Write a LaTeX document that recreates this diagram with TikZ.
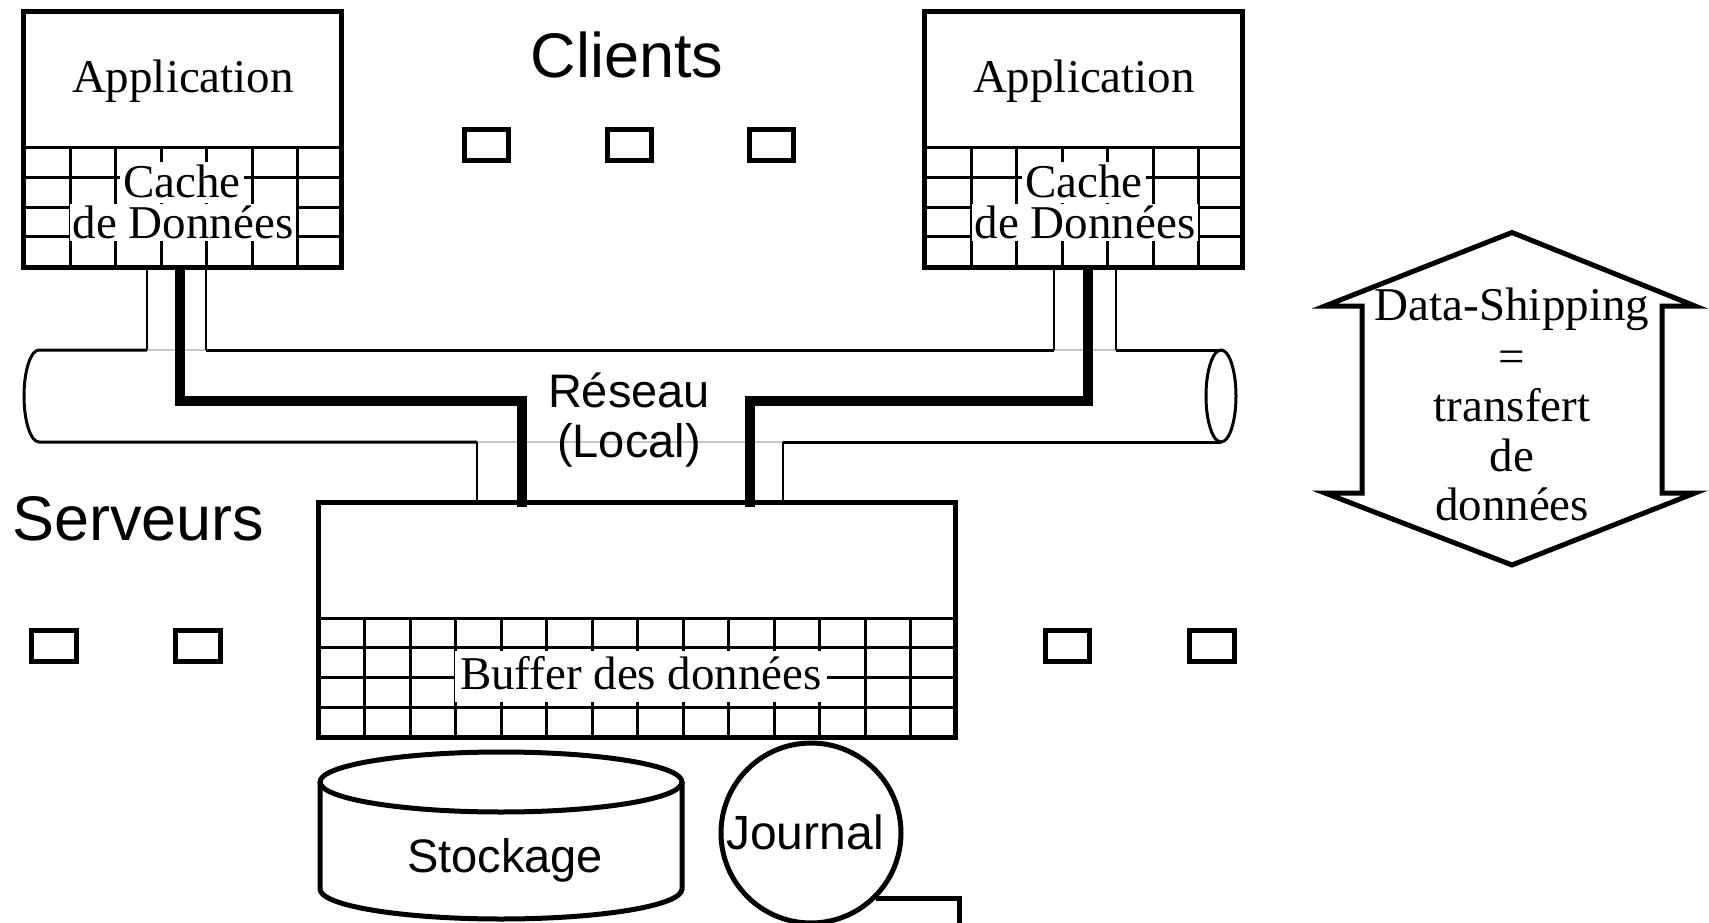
\documentclass[tikz,border=0pt]{standalone}
\usepackage{fontspec}
\setmainfont{Liberation Serif}
\newfontfamily\helv{Liberation Sans}
\begin{document}
\begin{tikzpicture}[x=1pt,y=-1pt,
  frame/.style={draw, line width=5pt, inner sep=0pt, outer sep=0pt},
  gridline/.style={line width=3pt},
  thinlink/.style={line width=2.5pt},
  datapath/.style={line width=10pt, line join=miter},
  tube/.style={line width=3pt},
  gap/.style={line width=1.5pt, black!22},
  heavy/.style={line width=5pt, line join=miter},
  mini/.style={draw, line width=5pt, minimum width=44.5pt, minimum height=31pt, inner sep=0pt},
  serif/.style={font=\fontsize{47}{50}\selectfont, inner sep=0pt},
  cachetop/.style={serif, fill=white, inner xsep=3pt, inner ysep=0pt, text height=35pt, text depth=5.5pt},
  cachebot/.style={serif, fill=white, inner xsep=3pt, inner ysep=0pt, text height=34.5pt, text depth=3pt},
  bigsans/.style={font=\helv\fontsize{63}{70}\selectfont, inner sep=0pt},
  midsans/.style={font=\helv\fontsize{47}{50}\selectfont, inner sep=0pt},
]
\useasboundingbox (0,0) rectangle (1709,923);

% ---- client cache grids ----
\foreach \ox in {23,924} {
  \foreach \k in {1,...,6}
    \draw[gridline] ({\ox+2+\k*45.43},148) -- ({\ox+2+\k*45.43},267);
  \foreach \j in {0,1,2,3}
    \draw[gridline] (\ox,{148+\j*29.5}) -- ({\ox+318},{148+\j*29.5});
}

% ---- client boxes ----
\node[frame, minimum width=318pt, minimum height=255pt] (cl) at (182,139.5) {};
\node[frame, minimum width=318pt, minimum height=255pt] (cr) at (1083,139.5) {};
\node[serif, anchor=base] (appl) at (183,93) {Application};
\node[serif, anchor=base] (appr) at (1084,93) {Application};
\node[cachebot, anchor=base] (donl) at (183,238) {de Données};
\node[cachetop, anchor=base] (cachel) at (182,197) {Cache};
\node[cachebot, anchor=base] (donr) at (1085,238) {de Données};
\node[cachetop, anchor=base] (cacher) at (1084,197) {Cache};

% ---- server buffer grid and box ----
\foreach \k in {1,...,13}
  \draw[gridline] ({319+\k*45.5},618) -- ({319+\k*45.5},737);
\foreach \j in {0,1,2,3}
  \draw[gridline] (318,{618+\j*29.75}) -- (955,{618+\j*29.75});
\node[frame, minimum width=637pt, minimum height=235pt] (srv) at (636.5,619.5) {};
\node[serif, fill=white, inner xsep=5pt, inner ysep=2pt, text height=36pt, text depth=11pt, anchor=base]
  (buf) at (641,689) {Buffer des données};

% ---- titles ----
\node[bigsans, anchor=base] (clients) at (627,78) {Clients};
\node[bigsans, anchor=base west] (serveurs) at (12,540) {Serveurs};

% ---- further machines ----
\node[mini] (m1) at (486.5,145.5) {};
\node[mini] (m2) at (629.5,145.5) {};
\node[mini] (m3) at (771.5,145.5) {};
\node[mini] (m4) at (54,645.5) {};
\node[mini] (m5) at (198,645.5) {};
\node[mini] (m6) at (1067.5,645.5) {};
\node[mini] (m7) at (1212,645.5) {};

% ---- local network tube ----
\coordinate (ta) at (147,350);
\coordinate (tb) at (206,350);
\coordinate (tc) at (1054,350);
\coordinate (td) at (1116,350);
\coordinate (ba) at (477,442);
\coordinate (bb) at (783,442);
\coordinate (tubeR) at (1221,396);
\draw[gap] (ta) -- (tb);
\draw[gap] (tc) -- (td);
\draw[gap] (ba) -- (bb);
\draw[tube] (ta) -- (39,350) arc[start angle=-90, end angle=-270, x radius=15, y radius=46] -- (ba);
\draw[tube] (tb) -- (tc);
\draw[tube] (td) -- (tubeR |- td);
\draw[tube] (bb) -- (tubeR |- bb);
\draw[tube] (tubeR) ellipse[x radius=15, y radius=46];
\node[midsans, anchor=base] (reseau) at (629,407) {Réseau};
\node[midsans, anchor=base] (local) at (629,457) {(Local)};

% ---- thin attachments ----
\draw[thinlink] (cl.south -| ta) -- (ta);
\draw[thinlink] (cl.south -| tb) -- (tb);
\draw[thinlink] (cr.south -| tc) -- (tc);
\draw[thinlink] (cr.south -| td) -- (td);
\draw[thinlink] (ba) -- (ba |- srv.north);
\draw[thinlink] (bb) -- (bb |- srv.north);

% ---- data paths ----
\coordinate (jl) at (180,401);
\coordinate (jm) at (522,401);
\coordinate (jr) at (1088,401);
\coordinate (jn) at (749.5,401);
\draw[datapath] (cl.south -| jl) -- (jl) -- (jm) -- ([yshift=-5pt]jm |- srv.north);
\draw[datapath] (cr.south -| jr) -- (jr) -- (jn) -- ([yshift=-5pt]jn |- srv.north);

% ---- storage ----
\draw[heavy] (320,782) -- (320,889) arc[start angle=180, end angle=0, x radius=181, y radius=30] -- (682,782);
\draw[heavy] (501,782) ellipse[x radius=181, y radius=30];
\node[midsans, anchor=base] (stock) at (505,872) {Stockage};

% ---- log ----
\node[circle, draw, line width=5pt, minimum size=180pt, inner sep=0pt] (jnl) at (811,833) {};
\node[font=\helv\fontsize{48}{50}\selectfont, inner sep=0pt, anchor=base] (jtxt) at (805,849) {Journal};
\coordinate (jend) at (959.5,935);
\draw[heavy] (jnl.-45) -| (jend);

% ---- data-shipping double arrow ----
\draw[heavy] (1512,232.5) -- (1695,306) -- (1662,306) -- (1662,493) -- (1695,493)
  -- (1512,565) -- (1325,493) -- (1362,493) -- (1362,306) -- (1325,306) -- cycle;
\node[serif, anchor=base] (ds1) at (1512,320) {Data-Shipping};
\node[serif, anchor=base] (ds2) at (1512,372) {=};
\node[serif, anchor=base] (ds3) at (1512,421) {transfert};
\node[serif, anchor=base] (ds4) at (1512,471) {de};
\node[serif, anchor=base] (ds5) at (1512,520) {données};
\end{tikzpicture}
\end{document}
